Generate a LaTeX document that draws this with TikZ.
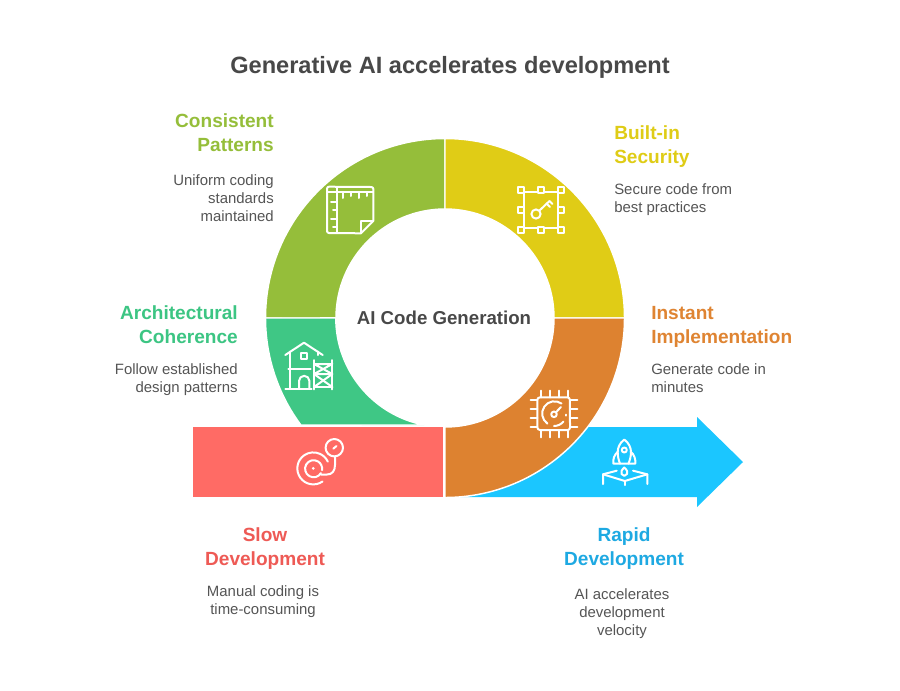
\documentclass[tikz,border=0pt]{standalone}
\usepackage{fontspec}
\setmainfont{Liberation Sans}
\definecolor{cyel}{HTML}{E0CC16}
\definecolor{cgrn}{HTML}{95BE3A}
\definecolor{cteal}{HTML}{3FC785}
\definecolor{corg}{HTML}{DD8230}
\definecolor{cred}{HTML}{FF6B65}
\definecolor{cblu}{HTML}{1BC6FF}
\definecolor{tyel}{HTML}{DFCC16}
\definecolor{tgrn}{HTML}{95BE3A}
\definecolor{tteal}{HTML}{3CC583}
\definecolor{torg}{HTML}{DF8432}
\definecolor{tred}{HTML}{EE5A55}
\definecolor{tblu}{HTML}{1EA9E2}
\definecolor{tdark}{HTML}{484848}
\definecolor{tbody}{HTML}{555555}
\tikzset{
  sector/.style={draw=white,line width=1.1pt,line join=miter},
  icon/.style={draw=white,line width=1.5pt,line cap=round,line join=round,fill=none},
  head/.style={font=\bfseries\fontsize{14.3}{18}\selectfont,inner sep=0pt},
  body/.style={font=\fontsize{11.2}{13.5}\selectfont,text=tbody,inner sep=0pt},
}
\def\Ro{134.625pt}
\def\Ri{81.75pt}
\begin{document}
\begin{tikzpicture}[x=0.75pt,y=-0.75pt]
\path[use as bounding box,fill=white] (0,0) rectangle (900,690);
\node[font=\bfseries\fontsize{17.7}{22}\selectfont,text=tdark,inner sep=0pt] (title) at (450,67) {Generative AI accelerates development};
% arrow
\fill[cblu] (460,427) -- (697,427) -- (697,417) -- (743,462) -- (697,507) -- (697,497) -- (460,497) -- cycle;
% sectors
\path[sector,fill=cgrn] (265.5,318) arc[start angle=180,end angle=90,radius=\Ro] -- (445,209) arc[start angle=90,end angle=180,radius=\Ri] -- cycle;
\path[sector,fill=cyel] (445,138.5) arc[start angle=90,end angle=0,radius=\Ro] -- (554,318) arc[start angle=0,end angle=90,radius=\Ri] -- cycle;
\path[sector,fill=cteal] (265.5,318) arc[start angle=180,end angle=216.6,radius=\Ro] -- (424.2,425) arc[start angle=259.1,end angle=180,radius=\Ri] -- cycle;
\path[sector,fill=corg] (624.5,318) arc[start angle=0,end angle=-90,radius=\Ro] -- (445,427) arc[start angle=-90,end angle=0,radius=\Ri] -- cycle;
\path[sector,fill=cred] (192.5,426.5) rectangle (444,497.8);
% centre
\node[font=\bfseries\fontsize{14}{16}\selectfont,text=tdark,inner sep=0pt] (centre) at (444,318) {AI Code Generation};
% text
\node[head,text=tgrn,align=right,anchor=base east] (h1) at (274,151) {Consistent\\Patterns};
\node[body,align=right,anchor=base east] (b1) at (274,221) {Uniform coding\\standards\\maintained};
\node[head,text=tyel,align=left,anchor=base west] (h2) at (614,163) {Built-in\\Security};
\node[body,align=left,anchor=base west] (b2) at (614,212) {Secure code from\\best practices};
\node[head,text=tteal,align=right,anchor=base east] (h3) at (238,343) {Architectural\\Coherence};
\node[body,align=right,anchor=base east] (b3) at (238,392) {Follow established\\design patterns};
\node[head,text=torg,align=left,anchor=base west] (h4) at (651,343) {Instant\\Implementation};
\node[body,align=left,anchor=base west] (b4) at (651,392) {Generate code in\\minutes};
\node[head,text=tred,align=center,anchor=base] (h5) at (265,565) {Slow\\Development};
\node[body,align=center,anchor=base] (b5) at (263,614) {Manual coding is\\time-consuming};
\node[head,text=tblu,align=center,anchor=base] (h6) at (624,565) {Rapid\\Development};
\node[body,align=center,anchor=base] (b6) at (622,635) {AI accelerates\\development\\velocity};
% green icon
\draw[icon] (327,190) -- (327,231) arc[start angle=180,end angle=270,radius=1.5pt] -- (361,233.3) -- (373.3,221) -- (373.3,189) arc[start angle=0,end angle=90,radius=1.5pt] -- (329,186.7) arc[start angle=90,end angle=180,radius=1.5pt] -- cycle;
\draw[icon] (337.3,187) -- (337.3,233);
\draw[icon] (327,192) -- (373,192);
\draw[icon] (361,233) -- (361,221) -- (373,221);
\foreach \x/\l in {342.8/198,351/196,359.2/198,367.4/196}{\draw[icon] (\x,192) -- (\x,\l);}
\foreach \y/\l in {201.7/331,210.3/333,219/331,227.3/333}{\draw[icon] (337,\y) -- (\l,\y);}
% key icon
\draw[icon,line cap=butt] (524,192) -- (558,192) -- (558,228) -- (524,228) -- cycle;
\foreach \x in {521,541,561}{\foreach \y in {190,230}{\draw[icon,fill=cyel] (\x-2.8,\y-2.8) rectangle (\x+2.8,\y+2.8);}}
\foreach \x in {521,561}{\draw[icon,fill=cyel] (\x-2.8,210-2.8) rectangle (\x+2.8,210+2.8);}
\draw[icon] (536,214) circle[radius=4.6];
\draw[icon] (539.5,210.5) -- (549.5,201);
\draw[icon] (546.5,203.5) -- (550,207);
\draw[icon] (549.5,201) -- (552.5,204);
% house icon
\draw[icon] (285.3,355) -- (304,342.7) -- (322.7,355);
\draw[icon] (290,351.5) -- (290,389);
\draw[icon] (317.7,351.5) -- (317.7,355);
\draw[icon] (285.3,389) -- (311.7,389);
\draw[icon] (288.3,369.3) -- (310.7,369.3);
\draw[icon] (300.7,352.5) rectangle (307.3,359);
\draw[icon] (299,389) -- (299,381) arc[start angle=180,end angle=0,radius=3.9pt] -- (309.4,389);
\draw[icon] (314,360) -- (314,389.3);
\draw[icon] (332.3,360) -- (332.3,389.3);
\draw[icon] (314,364) -- (332.3,364) -- (314,374) -- (332.3,374) -- (314,364);
\draw[icon] (314,374) -- (332.3,387) ;
\draw[icon] (332.3,374) -- (314,387);
\draw[icon] (314,387) -- (332.3,387);
% chip icon
\draw[icon] (537.3,400) arc[start angle=180,end angle=90,radius=2pt] -- (567.3,397.3) arc[start angle=90,end angle=0,radius=2pt] -- (570,427.5) arc[start angle=0,end angle=-90,radius=2pt] -- (540,430) arc[start angle=-90,end angle=-180,radius=2pt] -- cycle;
\foreach \p in {540.7,549.7,558.7,567.7}{\draw[icon] (\p,397.3) -- (\p,390.7); \draw[icon] (\p,430) -- (\p,437.3);}
\foreach \p in {400,409,418.3,427.3}{\draw[icon] (537.3,\p) -- (530.7,\p); \draw[icon] (570,\p) -- (577.3,\p);}
\draw[icon] (554,414.3) circle[radius=2.8];
\draw[icon] (556,412.2) -- (561,407);
\draw[icon] (561.5,403.5) arc[start angle=55,end angle=235,radius=9.2pt];
\draw[icon] (554,426) arc[start angle=-90,end angle=-40,radius=9.2pt];
\draw[icon] (566,414.5) -- (566,415.5);
% red icon
\draw[icon] (322.5,481.5) arc[start angle=-55,end angle=-335,radius=12pt];
\draw[icon] (321,473) arc[start angle=-30,end angle=-370,radius=6.4pt];
\fill[white] (313.3,468.3) circle[radius=1.5];
\draw[icon] (321,474.5) -- (327,474.5) .. controls (332,474.5) and (335,471) .. (335,465) -- (335,456.5);
\draw[icon] (334.3,447.7) circle[radius=8.7];
\draw[icon] (333.3,448.7) -- (336.5,446);
% rocket icon
\draw[icon] (624.3,439.5) .. controls (629,443) and (631,448) .. (631,452) .. controls (631,456) and (630,460) .. (628.5,463.5) -- (620,463.5) .. controls (618.5,460) and (617.7,456) .. (617.7,452) .. controls (617.7,448) and (619.5,443) .. (624.3,439.5) -- cycle;
\draw[icon] (624.3,450) circle[radius=2.5];
\draw[icon] (618,451.5) .. controls (614,455) and (613,459) .. (613.3,463.5) -- (620,463.5);
\draw[icon] (630.6,451.5) .. controls (634.6,455) and (635.6,459) .. (635.3,463.5) -- (628.5,463.5);
\draw[icon] (624.3,467.5) .. controls (627,470) and (628,472) .. (627,474) .. controls (626,476.5) and (622.5,476.5) .. (621.6,474) .. controls (620.6,472) and (621.6,470) .. (624.3,467.5) -- cycle;
\draw[icon] (603,484) -- (603,474.3) -- (616.7,470.7);
\draw[icon] (647.3,484) -- (647.3,474.3) -- (633,470.7);
\draw[icon] (603,474.3) -- (624.8,481) -- (647.3,474.3);
\draw[icon] (624.8,481) -- (624.8,485);
\end{tikzpicture}
\end{document}
